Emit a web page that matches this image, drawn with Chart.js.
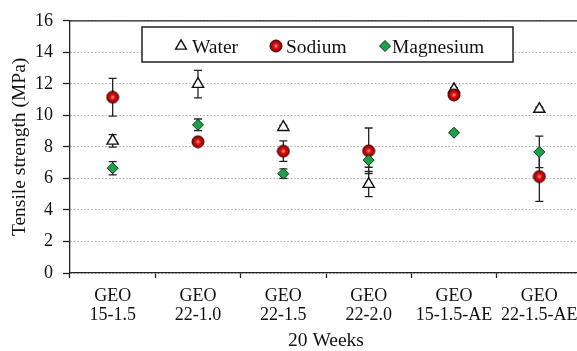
<!DOCTYPE html>
<html>
<head>
<meta charset="utf-8">
<script src="https://cdn.jsdelivr.net/npm/chart.js@4.4.1/dist/chart.umd.min.js"></script>
<style>
  html, body { margin: 0; padding: 0; background: #fff; overflow: hidden; }
  #wrap { width: 600px; height: 351px; }
</style>
</head>
<body>
<div id="wrap"><canvas id="c" width="600" height="351"></canvas></div>
<script>
const categories = [["GEO","15-1.5"],["GEO","22-1.0"],["GEO","22-1.5"],["GEO","22-2.0"],["GEO","15-1.5-AE"],["GEO","22-1.5-AE"]];
const seriesNames = ["Water","Sodium","Magnesium"];
const waterVals  = [8.38, 11.98, 9.25, 5.64, 11.65, 10.4];
const waterErr   = [0.4, 0.87, 0.12, 0.8, 0.1, 0.12];
const sodiumVals = [11.15, 8.33, 7.73, 7.75, 11.3, 6.12];
const sodiumErr  = [1.2, 0.2, 0.65, 1.45, 0.15, 1.57];
const magVals    = [6.65, 9.4, 6.3, 7.16, 8.9, 7.68];
const magErr     = [0.42, 0.37, 0.3, 0.45, 0.1, 1.0];
const yTicks = [0, 2, 4, 6, 8, 10, 12, 14, 16];
const xTitle = "20 Weeks";
const yTitle = "Tensile strength (MPa)";

const FONT = "'Liberation Serif', 'Times New Roman', serif";
const GREEN = '#1ca04c';

function makeSodiumImg(r) {
  const s = Math.ceil(r * 2 + 2);
  const cv = document.createElement('canvas');
  cv.width = s; cv.height = s;
  const g = cv.getContext('2d');
  const c = s / 2;
  const grad = g.createRadialGradient(c, c, 0, c, c, r);
  grad.addColorStop(0, '#ffffff');
  grad.addColorStop(0.18, '#ff5050');
  grad.addColorStop(0.4, '#e01010');
  grad.addColorStop(1, '#8a0000');
  g.beginPath(); g.arc(c, c, r, 0, Math.PI * 2);
  g.fillStyle = grad; g.fill();
  g.lineWidth = 1; g.strokeStyle = '#3a0000'; g.stroke();
  return cv;
}
const sodiumImg = makeSodiumImg(6);

const errs = [waterErr, sodiumErr, magErr];

const errorBars = {
  id: 'errorBars',
  beforeDatasetsDraw(chart) {
    const ctx = chart.ctx;
    const y = chart.scales.y;
    ctx.save();
    ctx.strokeStyle = '#222';
    ctx.lineWidth = 1.3;
    chart.data.datasets.forEach((ds, di) => {
      const meta = chart.getDatasetMeta(di);
      meta.data.forEach((pt, i) => {
        const v = ds.data[i], e = errs[di][i];
        const yt = y.getPixelForValue(v + e), yb = y.getPixelForValue(v - e);
        const x = pt.x;
        ctx.beginPath();
        ctx.moveTo(x, yt); ctx.lineTo(x, yb);
        ctx.moveTo(x - 4, yt); ctx.lineTo(x + 4, yt);
        ctx.moveTo(x - 4, yb); ctx.lineTo(x + 4, yb);
        ctx.stroke();
      });
    });
    ctx.restore();
  },
  afterDraw(chart) {
    const ctx = chart.ctx;
    const a = chart.chartArea;
    ctx.save();
    ctx.strokeStyle = '#222';
    ctx.lineWidth = 1.3;
    ctx.beginPath();
    ctx.moveTo(a.left, a.top); ctx.lineTo(a.right, a.top); ctx.lineTo(a.right, a.bottom);
    ctx.stroke();
    // legend
    const bx = 142, by = 27, bw = 371, bh = 35;
    ctx.fillStyle = '#fff';
    ctx.fillRect(bx, by, bw, bh);
    ctx.lineWidth = 1.5;
    ctx.strokeRect(bx, by, bw, bh);
    const cy = 46;
    ctx.font = '19.5px ' + FONT;
    ctx.fillStyle = '#111';
    ctx.textBaseline = 'alphabetic';
    // water triangle
    const r = 6.2;
    ctx.beginPath();
    ctx.moveTo(181, cy - r);
    ctx.lineTo(181 + r * Math.sin(2 * Math.PI / 3), cy - r * Math.cos(2 * Math.PI / 3));
    ctx.lineTo(181 - r * Math.sin(2 * Math.PI / 3), cy - r * Math.cos(2 * Math.PI / 3));
    ctx.closePath();
    ctx.fillStyle = '#fff'; ctx.fill();
    ctx.lineWidth = 1.4; ctx.strokeStyle = '#111'; ctx.stroke();
    ctx.fillStyle = '#111';
    ctx.fillText(seriesNames[0], 192, 53);
    ctx.drawImage(sodiumImg, 276 - sodiumImg.width / 2, cy - sodiumImg.height / 2);
    ctx.fillText(seriesNames[1], 286, 53);
    ctx.beginPath();
    ctx.moveTo(385 - 5.5, cy); ctx.lineTo(385, cy - 5.5); ctx.lineTo(385 + 5.5, cy); ctx.lineTo(385, cy + 5.5);
    ctx.closePath();
    ctx.fillStyle = GREEN; ctx.fill();
    ctx.lineWidth = 1; ctx.strokeStyle = '#0a3a18'; ctx.stroke();
    ctx.fillStyle = '#111';
    ctx.fillText(seriesNames[2], 392, 53);
    ctx.restore();
  }
};

new Chart(document.getElementById('c'), {
  type: 'line',
  data: {
    labels: categories,
    datasets: [
      { label: seriesNames[0], data: waterVals, showLine: false, order: 3,
        pointStyle: 'triangle', pointRadius: 6.5, pointHoverRadius: 6.5,
        pointBackgroundColor: '#fff', pointBorderColor: '#111', pointBorderWidth: 1.4 },
      { label: seriesNames[1], data: sodiumVals, showLine: false, order: 2,
        pointStyle: sodiumImg, pointRadius: 6, pointHoverRadius: 6 },
      { label: seriesNames[2], data: magVals, showLine: false, order: 1,
        pointStyle: 'rectRot', pointRadius: 5.5, pointHoverRadius: 5.5,
        pointBackgroundColor: GREEN, pointBorderColor: '#0a3a18', pointBorderWidth: 1 }
    ]
  },
  options: {
    responsive: false,
    animation: false,
    devicePixelRatio: 1,
    layout: { padding: { left: 0, top: 18, right: 18, bottom: 0 } },
    plugins: { legend: { display: false }, tooltip: { enabled: false } },
    scales: {
      x: {
        type: 'category',
        offset: true,
        grid: { display: true, drawOnChartArea: false, offset: true, tickLength: 5, tickColor: '#222', tickWidth: 1.3 },
        border: { color: '#222', width: 1.3 },
        ticks: { color: '#111', font: { family: FONT, size: 18, lineHeight: 1.1 }, padding: 8, maxRotation: 0, autoSkip: false },
        title: { display: true, text: xTitle, color: '#111', font: { family: FONT, size: 19.5, lineHeight: 1.0 }, padding: { top: 0, bottom: 0 } },
        afterFit(s) { s.height = 78; }
      },
      y: {
        min: 0, max: 16,
        afterBuildTicks(s) { s.ticks = yTicks.map(v => ({ value: v })); },
        grid: { color: '#a8a8a8', lineWidth: 1, tickColor: '#222', tickBorderDash: [], tickLength: 7, tickWidth: 1.3 },
        border: { color: '#222', width: 1.3, dash: [1.5, 2] },
        ticks: { color: '#111', font: { family: FONT, size: 18 }, padding: 10 },
        title: { display: true, text: yTitle, color: '#111', font: { family: FONT, size: 19.5, lineHeight: 1.0 }, padding: { top: 10.5, bottom: 0 } },
        afterFit(s) { s.width = 70; }
      }
    }
  },
  plugins: [errorBars]
});
</script>
</body>
</html>
